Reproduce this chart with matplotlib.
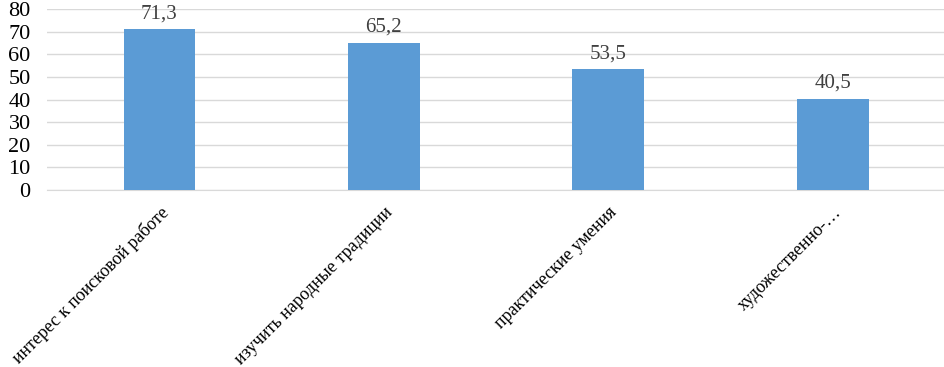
import matplotlib.pyplot as plt

categories = ['интерес к поисковой работе', 'изучить народные традиции',
              'практические умения', 'художественно-…']
values = [71.3, 65.2, 53.5, 40.5]
labels = ['71,3', '65,2', '53,5', '40,5']

plt.rcParams['font.family'] = ['Liberation Serif', 'DejaVu Serif']

fig = plt.figure(figsize=(9.45, 3.67), dpi=100)
ax = fig.add_axes([0.05, 0.482, 0.95, 0.493])

x = range(len(categories))
ax.bar(x, values, width=0.32, color='#5b9bd5', zorder=3)
for xi, v, lab in zip(x, values, labels):
    ax.text(xi, v + 2.5, lab, ha='center', va='bottom', fontsize=15, color='#404040')

ax.set_xlim(-0.5, len(categories) - 0.5)
ax.set_ylim(0, 80)
ax.set_yticks(range(0, 81, 10))
ax.tick_params(axis='y', labelsize=16, length=0, pad=12, colors='#000000')
ax.grid(axis='y', color='#d9d9d9', linewidth=1, zorder=0)
ax.set_xticks(list(x))
ax.set_xticklabels(categories, rotation=45, ha='right', rotation_mode='anchor', fontsize=13)
ax.tick_params(axis='x', length=0, pad=10)
for s in ['top', 'right', 'left']:
    ax.spines[s].set_visible(False)
ax.spines['bottom'].set_color('#d9d9d9')
ax.spines['bottom'].set_zorder(0)

fig.savefig('out.png', dpi=100)
